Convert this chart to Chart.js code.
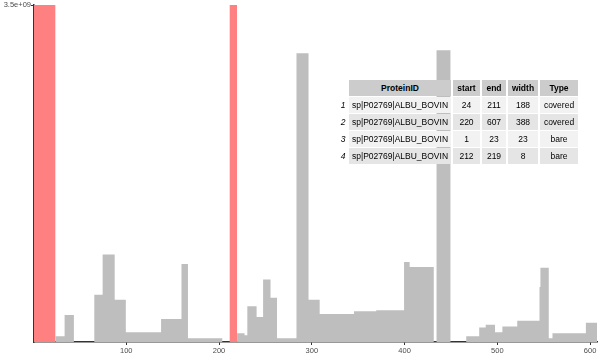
<!DOCTYPE html>
<html>
<head>
<meta charset="utf-8">
<script src="https://cdn.jsdelivr.net/npm/chart.js@4/dist/chart.umd.min.js"></script>
<style>
  html, body { margin: 0; padding: 0; background: #fff; }
  #wrap { position: relative; width: 600px; height: 360px; }
  #tbl { position: absolute; left: 0; top: 0; font-family: "Liberation Sans", Arial, sans-serif; font-size: 8.5px; color: #000; }
  .cell { position: absolute; display: flex; align-items: center; justify-content: center; white-space: nowrap; box-sizing: border-box; }
  .hd { font-weight: bold; background: #cccccc; }
  .rn { font-style: italic; justify-content: center; }
</style>
</head>
<body>
<div id="wrap">
  <canvas id="c" width="600" height="360"></canvas>
  <div id="tbl"></div>
</div>
<script>
// ---- coverage data (residue segments) ----
const covStart = [24, 34, 44, 66, 75, 88, 100, 138, 160, 167, 204, 220, 228, 231, 241, 248, 256, 263, 284, 297, 309, 346, 370, 400, 406, 432, 435, 450, 467, 481, 488, 498, 506, 522, 546, 547, 556, 560, 596];
const covValue = [0.06e9, 0.28e9, 0, 0.49e9, 0.91e9, 0.44e9, 0.10e9, 0.24e9, 0.81e9, 0.04e9, 0, 0.09e9, 0.07e9, 0.37e9, 0.26e9, 0.65e9, 0.46e9, 0.04e9, 3.0e9, 0.44e9, 0.29e9, 0.32e9, 0.33e9, 0.83e9, 0.78e9, 0, 3.03e9, 0, 0.06e9, 0.15e9, 0.18e9, 0.10e9, 0.16e9, 0.22e9, 0.57e9, 0.77e9, 0.04e9, 0.09e9, 0.20e9];
const covLastEnd = 607;

// ---- bare regions ----
const bareStart = [1, 212];
const bareEnd = [23, 219];
const yMax = 3.5e9;

// ---- axis ticks ----
const xTicks = [100, 200, 300, 400, 500, 600];
const yTicks = [3.5e9];
const yTickLabels = ['3.5e+09'];

// ---- table ----
const tblHeader = ['ProteinID', 'start', 'end', 'width', 'Type'];
const tblRowNames = ['1', '2', '3', '4'];
const tblProtein = ['sp|P02769|ALBU_BOVIN', 'sp|P02769|ALBU_BOVIN', 'sp|P02769|ALBU_BOVIN', 'sp|P02769|ALBU_BOVIN'];
const tblStart = [24, 220, 1, 212];
const tblEnd = [211, 607, 23, 219];
const tblWidth = [188, 388, 23, 8];
const tblType = ['covered', 'covered', 'bare', 'bare'];

// build stepped series
const covPts = covStart.map((s, i) => ({x: s - 0.5, y: covValue[i]}));
covPts.push({x: covLastEnd + 0.5, y: 0});
const barePts = [];
bareStart.forEach((s, i) => {
  barePts.push({x: s - 0.5, y: yMax});
  barePts.push({x: bareEnd[i] + 0.5, y: 0});
});

new Chart(document.getElementById('c'), {
  type: 'line',
  data: {
    datasets: [
      { data: covPts, stepped: true, fill: 'origin', backgroundColor: '#bebebe', borderWidth: 0, pointRadius: 0 },
      { data: barePts, stepped: true, fill: 'origin', backgroundColor: '#ff8080', borderWidth: 0, pointRadius: 0 }
    ]
  },
  options: {
    responsive: false,
    animation: false,
    layout: { autoPadding: false, padding: { left: 0, right: 3, top: 5, bottom: 0 } },
    plugins: { legend: { display: false }, tooltip: { enabled: false } },
    scales: {
      x: {
        type: 'linear', min: 0.5, max: covLastEnd + 0.5,
        afterBuildTicks: s => { s.ticks = xTicks.map(v => ({value: v})); },
        afterFit: s => { s.height = 18; },
        grid: { display: true, drawOnChartArea: false, drawTicks: true, tickLength: 3, color: '#333' },
        border: { display: true, color: '#333', width: 1.5 },
        ticks: { font: { family: 'Liberation Sans', size: 7.5 }, color: '#4d4d4d', padding: 1, maxRotation: 0 }
      },
      y: {
        min: 0, max: yMax,
        afterBuildTicks: s => { s.ticks = yTicks.map(v => ({value: v})); },
        afterFit: s => { s.width = 34; },
        grid: { display: true, drawOnChartArea: false, drawTicks: true, tickLength: 3, color: '#333' },
        border: { display: true, color: '#333', width: 1.5 },
        ticks: { font: { family: 'Liberation Sans', size: 7.5 }, color: '#4d4d4d', padding: 0,
                 callback: (v) => yTickLabels[yTicks.indexOf(v)] }
      }
    }
  }
});

// table overlay
const colL = [349, 453, 482, 508, 540];
const colR = [451, 480, 506, 538, 578];
const rowTop = [80, 97, 114, 131, 148];
const rowBot = [96, 113, 130, 147, 164];
const rowFill = ['#f2f2f2', '#e5e5e5'];
const tbl = document.getElementById('tbl');
function addCell(text, l, r, t, b, cls, bg) {
  const d = document.createElement('div');
  d.className = 'cell ' + (cls || '');
  d.style.left = l + 'px'; d.style.top = t + 'px';
  d.style.width = (r - l) + 'px'; d.style.height = (b - t) + 'px';
  if (bg) d.style.background = bg;
  d.textContent = text;
  tbl.appendChild(d);
}
tblHeader.forEach((h, j) => addCell(h, colL[j], colR[j], rowTop[0], rowBot[0], 'hd'));
tblRowNames.forEach((rn, i) => {
  const t = rowTop[i + 1], b = rowBot[i + 1], bg = rowFill[i % 2];
  addCell(rn, 338, 348, t, b, 'rn', '#fff');
  const vals = [tblProtein[i], tblStart[i], tblEnd[i], tblWidth[i], tblType[i]];
  vals.forEach((v, j) => addCell(String(v), colL[j], colR[j], t, b, '', bg));
});
</script>
</body>
</html>
